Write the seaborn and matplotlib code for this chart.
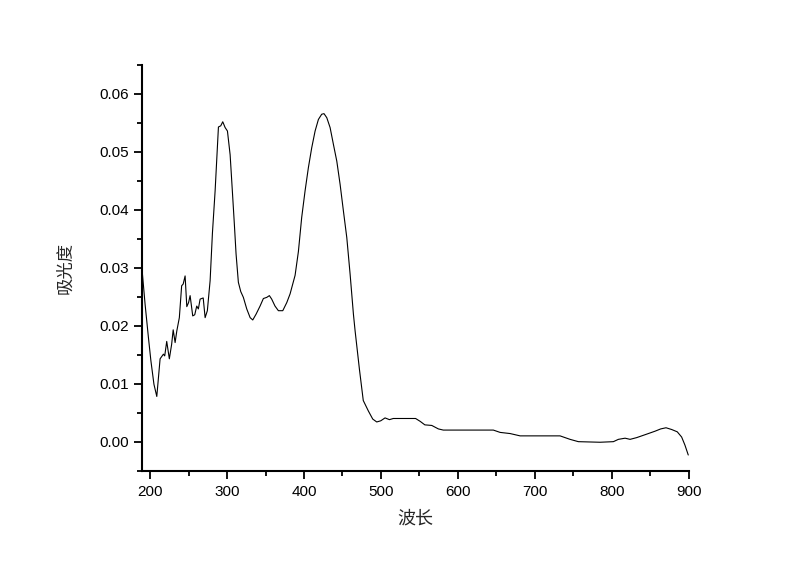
import numpy as np
import pandas as pd
import matplotlib
matplotlib.use("Agg")
import matplotlib.pyplot as plt
import seaborn as sns
from matplotlib.ticker import MultipleLocator, FormatStrFormatter

# lunghezza d'onda (nm) e assorbanza
lunghezza = [190, 193.5, 197.8, 201, 205, 208.7, 213, 217.3, 219, 221.6,
             225, 228, 230, 232.5, 234.7, 238, 241, 243, 245.5, 247.7,
             250, 252, 255.4, 258, 260.6, 262.7, 265, 269, 271.5, 274.4,
             278, 281, 284.5, 288.8, 291.8, 294.4, 297.5, 300.5, 304, 307,
             309.5, 311.7, 314.7, 317.8, 321.2, 325.6, 330, 333.4, 337.7, 342.9,
             347.2, 351.6, 355, 358, 362.3, 366.7, 372.4, 377.6, 381.9, 388.4,
             392.7, 397, 401.4, 405.7, 410, 414.4, 418.7, 423, 426, 429.6,
             433.9, 438.2, 442.6, 446.9, 451.2, 455.6, 459.9, 464.2, 466.4, 472,
             477, 483.6, 489.3, 494.5, 499.7, 505.3, 511, 516, 545, 551,
             557, 566, 574.6, 581, 646, 654.8, 667.8, 680.8, 732.7, 745.7,
             756.5, 784.7, 802, 808.5, 817.2, 823.7, 832.3, 845.3, 856, 863.5,
             870.4, 877.7, 885, 890.7, 895, 899.3]
assorbanza = [0.0290, 0.0237, 0.0180, 0.0140, 0.0099, 0.0078, 0.0143, 0.0151, 0.0148, 0.0173,
              0.0143, 0.0168, 0.0193, 0.0171, 0.0191, 0.0214, 0.0269, 0.0272, 0.0286, 0.0233,
              0.0240, 0.0252, 0.0217, 0.0219, 0.0234, 0.0229, 0.0246, 0.0248, 0.0214, 0.0226,
              0.0278, 0.0360, 0.0433, 0.0543, 0.0545, 0.0552, 0.0542, 0.0536, 0.0495, 0.0430,
              0.0375, 0.0324, 0.0275, 0.0259, 0.0249, 0.0229, 0.0214, 0.0210, 0.0220, 0.0234,
              0.0247, 0.0249, 0.0252, 0.0246, 0.0234, 0.0226, 0.0226, 0.0240, 0.0255, 0.0287,
              0.0328, 0.0387, 0.0433, 0.0473, 0.0507, 0.0536, 0.0556, 0.0565, 0.0566, 0.0559,
              0.0542, 0.0513, 0.0484, 0.0444, 0.0398, 0.0352, 0.0289, 0.0220, 0.0191, 0.0125,
              0.0071, 0.0053, 0.0039, 0.0034, 0.0036, 0.0041, 0.0038, 0.0040, 0.0040, 0.0035,
              0.0029, 0.0028, 0.0022, 0.0020, 0.0020, 0.0016, 0.0014, 0.0010, 0.0010, 0.0004,
              0.0000, -0.0001, 0.0000, 0.0004, 0.0006, 0.0004, 0.0007, 0.0013, 0.0018, 0.0022,
              0.0024, 0.0021, 0.0017, 0.0008, -0.0006, -0.0023]

df = pd.DataFrame({"波长": lunghezza, "吸光度": assorbanza})

sns.set_style("ticks")
plt.rcParams['font.family'] = ['Liberation Sans', 'Noto Sans CJK SC', 'DejaVu Sans']

fig = plt.figure(figsize=(8, 5.65), dpi=100)
ax = fig.add_axes([0.178, 0.167, 0.683, 0.718])

sns.lineplot(data=df, x="波长", y="吸光度", estimator=None, sort=False,
             color="black", linewidth=0.8, ax=ax)

ax.set_xlim(190, 900)
ax.set_ylim(-0.005, 0.065)
ax.xaxis.set_major_locator(MultipleLocator(100))
ax.xaxis.set_minor_locator(MultipleLocator(50))
ax.yaxis.set_major_locator(MultipleLocator(0.01))
ax.yaxis.set_minor_locator(MultipleLocator(0.005))
ax.yaxis.set_major_formatter(FormatStrFormatter('%.2f'))

sns.despine(ax=ax)
for lato in ["left", "bottom"]:
    ax.spines[lato].set_linewidth(1.5)
    ax.spines[lato].set_color("black")
ax.tick_params(which="major", direction="out", length=6, width=1.3,
               labelsize=11, colors="black", pad=4)
ax.tick_params(which="minor", direction="out", length=3.5, width=1.3, colors="black")

ax.set_xlabel("波长", fontsize=13, family=['Noto Sans CJK SC', 'DejaVu Sans'])
ax.set_ylabel("吸光度", fontsize=12.5, family=['Noto Sans CJK SC', 'DejaVu Sans'])
ax.xaxis.set_label_coords(0.5, -0.095)
ax.yaxis.set_label_coords(-0.125, 0.5)

fig.savefig("out.png", dpi=100)
